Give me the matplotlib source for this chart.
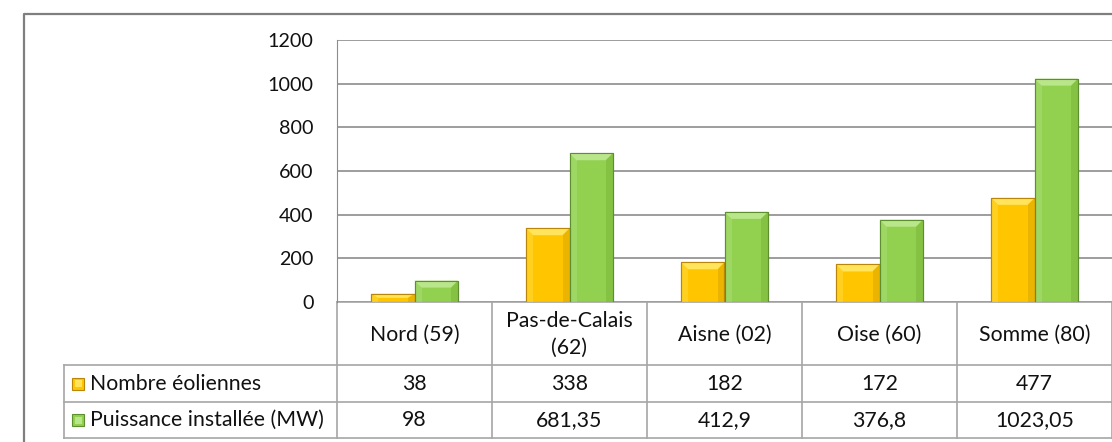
import numpy as np
import matplotlib.pyplot as plt
from matplotlib.patches import Polygon, Rectangle

plt.rcParams['font.family'] = ['Lato', 'DejaVu Sans']

categories = ["Nord (59)", "Pas-de-Calais\n(62)", "Aisne (02)", "Oise (60)", "Somme (80)"]
nombre = [38, 338, 182, 172, 477]
puissance = [98, 681.35, 412.9, 376.8, 1023.05]
nombre_txt = ["38", "338", "182", "172", "477"]
puissance_txt = ["98", "681,35", "412,9", "376,8", "1023,05"]
series_names = ["Nombre éoliennes", "Puissance installée (MW)"]

W, H = 1112, 442
fig = plt.figure(figsize=(W / 100, H / 100), dpi=100)

# pixel overlay for frame + data table
ov = fig.add_axes([0, 0, 1, 1])
ov.set_xlim(0, W)
ov.set_ylim(H, 0)
ov.axis("off")

grid_c = "#8c8c8c"
txt_c = "#111111"
fs = 15.3
fs_tick = 14.2

# outer frame (cut on right / bottom)
ov.plot([24, 24, W], [H, 14, 14], color="#7f7f7f", lw=1.6)

# plot area
x0, x1, yb, yt = 337, 1112, 302, 40
ax = fig.add_axes([x0 / W, (H - yb) / H, (x1 - x0) / W, (yb - yt) / H])
ax.set_xlim(-0.5, len(categories) - 0.5)
ax.set_ylim(0, 1200)
ax.set_yticks(np.arange(0, 1201, 200))
ax.set_xticks([])
for s in ["top", "right", "bottom"]:
    ax.spines[s].set_visible(False)
ax.spines["left"].set_color(grid_c)
ax.tick_params(axis="y", length=0, pad=17, labelsize=fs_tick, labelcolor=txt_c)
ax.yaxis.grid(True, color=grid_c, lw=1.2)
ax.set_axisbelow(True)

cols = [("#FFC600", "#FFE45C", "#D9A300", "#B8860B"),
        ("#92D050", "#B9E68A", "#79B53A", "#5E8F2E")]
bw = 0.28
x = np.arange(len(categories))
bx = 7 / 155.0      # bevel size in x data units
by = 7 * 1200 / 262.0  # bevel size in y data units
for k, vals in enumerate([nombre, puissance]):
    base, light, dark, edge = cols[k]
    xs = x + (k - 0.5) * bw
    bars = ax.bar(xs, vals, bw, color=base, edgecolor=edge, lw=0.8, zorder=3)
    for b in bars:
        l, r, h = b.get_x(), b.get_x() + b.get_width(), b.get_height()
        d = min(by, h / 2)
        ax.add_patch(Polygon([[l, h], [r, h], [r - bx, h - d], [l + bx, h - d]],
                             closed=True, fc=light, ec="none", zorder=4))
        ax.add_patch(Polygon([[r, h], [r, 0], [r - bx, 0], [r - bx, h - d]],
                             closed=True, fc=dark, ec="none", alpha=0.5, zorder=4))
        ax.add_patch(Polygon([[l, h], [l, 0], [l + bx, 0], [l + bx, h - d]],
                             closed=True, fc=light, ec="none", alpha=0.35, zorder=4))
        ax.add_patch(Rectangle((l, 0), r - l, h, fc="none", ec=edge, lw=0.8, zorder=5))

# data table
slot = (x1 - x0) / len(categories)
r0, r1, r2, r3 = 302, 365, 402, 438
lc = "#a6a6a6"
ov.plot([x0, x0], [r0, r3], color=lc, lw=1.2)
for i in range(1, len(categories) + 1):
    xx = x0 + i * slot
    ov.plot([xx, xx], [r0, r3], color=lc, lw=1.2)
ov.plot([x0, W], [r0, r0], color=lc, lw=1.2)
for yy in [r1, r2, r3]:
    ov.plot([64, W], [yy, yy], color=lc, lw=1.2)
ov.plot([64, 64], [r1, r3], color=lc, lw=1.2)

for i, c in enumerate(categories):
    cx = x0 + (i + 0.5) * slot
    ov.text(cx, (r0 + r1) / 2 + 1, c, ha="center", va="center", fontsize=fs,
            color=txt_c, linespacing=1.4)
    ov.text(cx, (r1 + r2) / 2, nombre_txt[i], ha="center", va="center", fontsize=fs, color=txt_c)
    ov.text(cx, (r2 + r3) / 2, puissance_txt[i], ha="center", va="center", fontsize=fs, color=txt_c)

for k, (name, yc) in enumerate(zip(series_names, [(r1 + r2) / 2, (r2 + r3) / 2])):
    base, light, dark, edge = cols[k]
    ov.add_patch(Rectangle((72, yc - 6), 12, 12, fc=base, ec=edge, lw=0.8))
    ov.add_patch(Rectangle((74.5, yc - 3.5), 7, 7, fc=light, ec="none"))
    ov.text(90, yc, name, ha="left", va="center", fontsize=fs, color=txt_c)

fig.savefig("out.png", dpi=100)
